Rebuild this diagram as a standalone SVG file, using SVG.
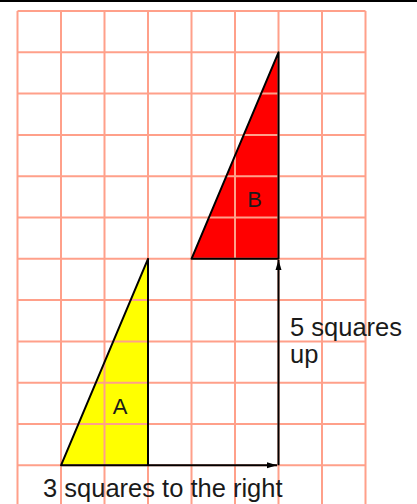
<svg xmlns="http://www.w3.org/2000/svg" width="417" height="504" viewBox="0 0 417 504">
<style>
.grid line{stroke:#ffa08a;stroke-width:2}
.edge{fill:none;stroke:#000;stroke-width:2;stroke-linejoin:round}
.conn{fill:none;stroke:#000;stroke-width:2}
text{font-family:"Liberation Sans",Arial,sans-serif;fill:#1a1a1a}
.lbl{font-size:25.5px}
.tl{font-size:22px;text-anchor:middle}
</style>
<defs>
<marker id="arr" viewBox="0 0 10 8" refX="10" refY="4" markerWidth="10" markerHeight="8" markerUnits="userSpaceOnUse" orient="auto">
<path d="M0,1 L10,4 L0,7 Z" fill="#000"/>
</marker>
</defs>
<rect width="417" height="504" fill="#fff"/>
<line x1="0" y1="1" x2="417" y2="1" stroke="#000" stroke-width="2"/>
<g id="triA-fill"><polygon points="61,465.3 148,258.8 148,465.3" fill="#ffff00"/></g>
<g id="triB-fill"><polygon points="191.5,258.8 278.5,52.3 278.5,258.8" fill="#ff0000"/></g>
<g class="grid" id="grid">
<line x1="17.5" y1="11" x2="17.5" y2="504"/>
<line x1="61" y1="11" x2="61" y2="504"/>
<line x1="104.5" y1="11" x2="104.5" y2="504"/>
<line x1="148" y1="11" x2="148" y2="504"/>
<line x1="191.5" y1="11" x2="191.5" y2="504"/>
<line x1="235" y1="11" x2="235" y2="504"/>
<line x1="278.5" y1="11" x2="278.5" y2="504"/>
<line x1="322" y1="11" x2="322" y2="504"/>
<line x1="365.5" y1="11" x2="365.5" y2="504"/>
<line x1="17.5" y1="11" x2="365.5" y2="11"/>
<line x1="17.5" y1="52.3" x2="365.5" y2="52.3"/>
<line x1="17.5" y1="93.6" x2="365.5" y2="93.6"/>
<line x1="17.5" y1="134.9" x2="365.5" y2="134.9"/>
<line x1="17.5" y1="176.2" x2="365.5" y2="176.2"/>
<line x1="17.5" y1="217.5" x2="365.5" y2="217.5"/>
<line x1="17.5" y1="258.8" x2="365.5" y2="258.8"/>
<line x1="17.5" y1="300.1" x2="365.5" y2="300.1"/>
<line x1="17.5" y1="341.4" x2="365.5" y2="341.4"/>
<line x1="17.5" y1="382.7" x2="365.5" y2="382.7"/>
<line x1="17.5" y1="424" x2="365.5" y2="424"/>
<line x1="17.5" y1="465.3" x2="365.5" y2="465.3"/>
</g>
<g id="triangle-A">
<polygon class="edge" points="61,465.3 148,258.8 148,465.3"/>
<text class="tl" x="120" y="414">A</text>
</g>
<g id="triangle-B">
<polygon class="edge" points="191.5,258.8 278.5,52.3 278.5,258.8"/>
<text class="tl" x="254.5" y="207">B</text>
</g>
<g id="connectors">
<line class="conn" x1="148" y1="465.3" x2="277" y2="465.3" marker-end="url(#arr)"/>
<line class="conn" x1="278.5" y1="465.3" x2="278.5" y2="260" marker-end="url(#arr)"/>
</g>
<g id="labels">
<text class="lbl" x="290" y="336"><tspan x="290">5 squares</tspan><tspan x="290" dy="27">up</tspan></text>
<text class="lbl" x="43" y="497">3 squares to the right</text>
</g>
</svg>
